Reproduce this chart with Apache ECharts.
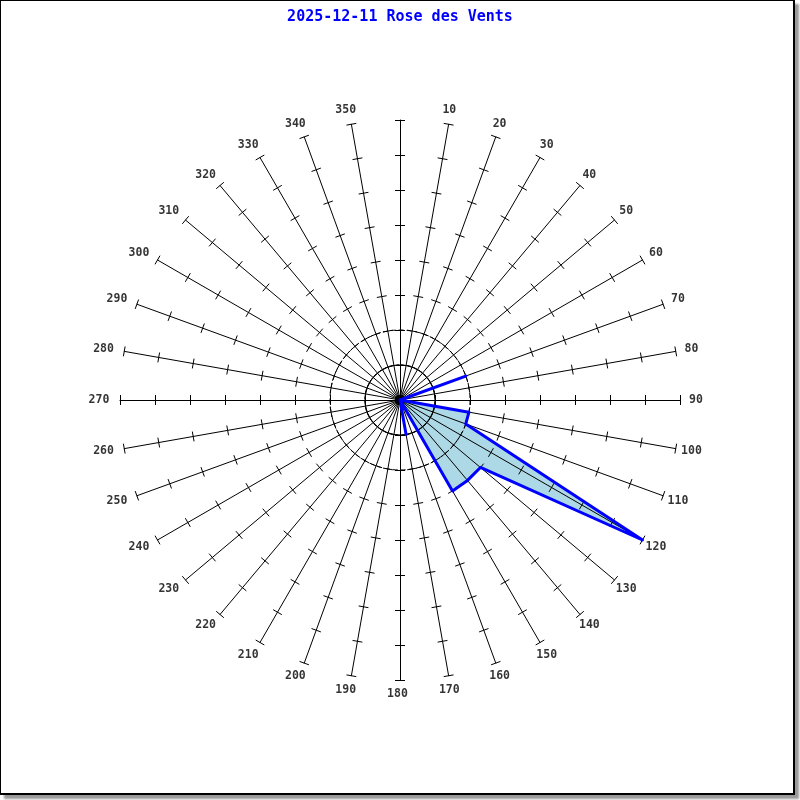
<!DOCTYPE html>
<html>
<head>
<meta charset="utf-8">
<script src="https://cdn.jsdelivr.net/npm/echarts@6/dist/echarts.min.js"></script>
<style>
  html, body { margin: 0; padding: 0; background: #fff; }
  #wrap { position: relative; width: 800px; height: 800px; }
  #chart { width: 800px; height: 800px; }
  #frame {
    position: absolute; left: 0; top: 0; width: 792px; height: 792px;
    border-top: 1px solid #000; border-left: 1px solid #000;
    border-right: 2px solid #000; border-bottom: 2px solid #000;
    box-shadow: 4px 4px 2px #999; pointer-events: none;
  }
</style>
</head>
<body>
<div id="wrap">
  <div id="chart"></div>
  <div id="frame"></div>
</div>
<script>
// wind directions (degrees, clockwise from north)
const directions = [0, 10, 20, 30, 40, 50, 60, 70, 80, 90, 100, 110,
  120, 130, 140, 150, 160, 170, 180, 190, 200, 210, 220, 230,
  240, 250, 260, 270, 280, 290, 300, 310, 320, 330, 340, 350]
// value per direction
const frequencies = [0, 0, 0, 0, 0, 0, 0, 2, 0, 0, 2, 2,
  8, 3, 3, 3, 0, 1, 0, 0, 0, 0, 0, 0,
  0, 0, 0, 0, 0, 0, 0, 0, 0, 0, 0, 0]
// labels at the end of each spoke
const dirLabels = ['', '10', '20', '30', '40', '50', '60', '70', '80', '90', '100', '110',
  '120', '130', '140', '150', '160', '170', '180', '190', '200', '210', '220', '230',
  '240', '250', '260', '270', '280', '290', '300', '310', '320', '330', '340', '350']
const maxValue = 8

const chart = echarts.init(document.getElementById('chart'))

// radar goes counter-clockwise, so walk the directions backwards
const order = directions.map((d, i) => (directions.length - i) % directions.length)
const indicators = order.map(i => ({ name: String(directions[i]), max: maxValue, min: 0 }))
const values = order.map(i => frequencies[i])

const baseRadar = {
  indicator: indicators,
  center: [400, 400],
  startAngle: 90,
  splitNumber: maxValue,
  shape: 'circle',
  z: 1,
  axisName: { show: false },
  splitLine: { show: false },
  splitArea: { show: false },
  axisLine: { show: false },
  axisTick: { show: false }
}

chart.setOption({
  animation: false,
  title: {
    text: '2025-12-11 Rose des Vents',
    left: 'center',
    top: 5,
    textStyle: {
      color: '#0000ff',
      fontFamily: 'DejaVu Sans Mono',
      fontSize: 15,
      fontWeight: 'bold'
    }
  },
  radar: [
    // spokes + ticks on one side
    Object.assign({}, baseRadar, {
      radius: 280,
      axisLine: { show: true, lineStyle: { color: '#000', width: 1 } },
      axisTick: { show: true, length: 5, lineStyle: { color: '#000', width: 1 } }
    }),
    // ticks on the other side
    Object.assign({}, baseRadar, {
      radius: 280,
      axisTick: { show: true, length: -5, lineStyle: { color: '#000', width: 1 } }
    }),
    // inner solid circle
    Object.assign({}, baseRadar, {
      radius: 35,
      splitNumber: 1,
      splitLine: { show: true, lineStyle: { color: '#000', width: 1 } }
    }),
    // dashed circle
    Object.assign({}, baseRadar, {
      radius: 70,
      splitNumber: 1,
      splitLine: { show: true, lineStyle: { color: '#000', width: 1, type: [5, 3] } }
    })
  ],
  polar: {
    center: [400, 400],
    radius: 294
  },
  angleAxis: {
    type: 'value', min: 0, max: 360, startAngle: 90, clockwise: true,
    axisLine: { show: false }, axisTick: { show: false },
    axisLabel: { show: false }, splitLine: { show: false }
  },
  radiusAxis: {
    type: 'value', min: 0, max: 1,
    axisLine: { show: false }, axisTick: { show: false },
    axisLabel: { show: false }, splitLine: { show: false }
  },
  series: [
    {
      // filled area, under the spokes
      type: 'radar',
      radarIndex: 0,
      z: 0,
      symbol: 'none',
      lineStyle: { width: 0, opacity: 0 },
      areaStyle: { color: '#add8e6', opacity: 1 },
      data: [{ value: values }]
    },
    {
      // outline, over the spokes
      type: 'radar',
      radarIndex: 0,
      z: 3,
      symbol: 'none',
      lineStyle: { color: '#0000ff', width: 3 },
      data: [{ value: values }]
    },
    {
      type: 'scatter',
      coordinateSystem: 'polar',
      symbolSize: 0,
      silent: true,
      label: {
        show: true,
        position: 'inside',
        formatter: p => p.data.value[2],
        color: '#000',
        fontFamily: 'DejaVu Sans Mono',
        fontWeight: 'bold',
        fontSize: 11.5
      },
      data: directions.map((d, i) => ({
        value: [1, d, dirLabels[i]],
        // labels sit a little further out on the sides than at top/bottom
        label: { offset: [-2.5 + 4.5 * Math.sin(d * Math.PI / 180), 0] }
      }))
    }
  ]
})
</script>
</body>
</html>
